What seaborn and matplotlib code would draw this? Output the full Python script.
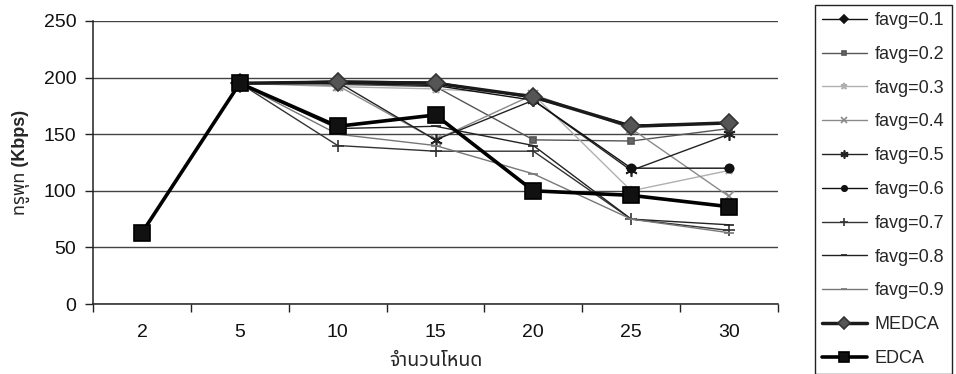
import numpy as np
import pandas as pd
import matplotlib
matplotlib.use("Agg")
import matplotlib.pyplot as plt
import seaborn as sns
from matplotlib.ticker import FixedLocator

# ---- data ----
categories = ["2", "5", "10", "15", "20", "25", "30"]
nan = np.nan
favg_01 = [nan, 195, 197, 196, 182, 158, 160]
favg_02 = [nan, 195, 194, 192, 145, 144, 155]
favg_03 = [nan, 195, 192, 190, 185, 100, 118]
favg_04 = [nan, 195, 193, 145, 185, 155, 95]
favg_05 = [nan, 195, 196, 145, 180, 118, 150]
favg_06 = [nan, 195, 195, 193, 180, 120, 120]
favg_07 = [nan, 195, 140, 135, 135, 75, 65]
favg_08 = [nan, 195, 155, 157, 140, 75, 70]
favg_09 = [nan, 195, 150, 140, 115, 75, 63]
medca = [nan, 195, 196, 195, 183, 157, 160]
edca = [63, 195, 157, 167, 100, 96, 86]
y_ticks = [0, 50, 100, 150, 200, 250]

series = [
    ("favg=0.1", favg_01),
    ("favg=0.2", favg_02),
    ("favg=0.3", favg_03),
    ("favg=0.4", favg_04),
    ("favg=0.5", favg_05),
    ("favg=0.6", favg_06),
    ("favg=0.7", favg_07),
    ("favg=0.8", favg_08),
    ("favg=0.9", favg_09),
    ("MEDCA", medca),
    ("EDCA", edca),
]

styles = {
    "favg=0.1": dict(color="#111111", marker="D", ms=6, lw=1.0, mfc="#111111", mec="#111111"),
    "favg=0.2": dict(color="#555555", marker="s", ms=5, lw=1.0, mfc="#666666", mec="#555555"),
    "favg=0.3": dict(color="#b0b0b0", marker="*", ms=7, lw=1.0, mfc="#b0b0b0", mec="#b0b0b0"),
    "favg=0.4": dict(color="#8a8a8a", marker="x", ms=7, lw=1.0, mfc="#8a8a8a", mec="#8a8a8a"),
    "favg=0.5": dict(color="#222222", marker=(6, 2, 0), ms=9, lw=1.0, mfc="#222222", mec="#222222"),
    "favg=0.6": dict(color="#111111", marker="o", ms=6, lw=1.0, mfc="#111111", mec="#111111"),
    "favg=0.7": dict(color="#333333", marker="+", ms=9, lw=1.0, mfc="#333333", mec="#333333"),
    "favg=0.8": dict(color="#222222", marker="_", ms=7, lw=1.0, mfc="#222222", mec="#222222"),
    "favg=0.9": dict(color="#777777", marker="_", ms=7, lw=1.0, mfc="#777777", mec="#777777"),
    "MEDCA": dict(color="#1a1a1a", marker="D", ms=9, lw=2.5, mfc="#555555", mec="#333333"),
    "EDCA": dict(color="#000000", marker="s", ms=12, lw=2.6, mfc="#111111", mec="#000000"),
}

sns.set_theme(style="white")
plt.rcParams["font.family"] = ["Liberation Sans", "Noto Sans Thai", "Loma", "DejaVu Sans"]

fig = plt.figure(figsize=(9.56, 3.74), dpi=100)
ax = fig.add_axes([0.0973, 0.187, 0.7165, 0.7569])

pos = np.arange(len(categories))
for name, vals in series:
    st = styles[name]
    df = pd.DataFrame({"x": pos, "y": vals})
    sns.lineplot(data=df, x="x", y="y", ax=ax, color=st["color"], lw=st["lw"],
                 marker=st["marker"], markersize=st["ms"],
                 markerfacecolor=st["mfc"], markeredgecolor=st["mec"],
                 markeredgewidth=1.2, label=name, legend=False)

ax.set_xlim(-0.5, len(categories) - 0.5)
ax.set_ylim(0, 250)
ax.set_yticks(y_ticks)
ax.set_xticks(pos)
ax.set_xticklabels(categories)
ax.xaxis.set_minor_locator(FixedLocator(np.arange(-0.5, len(categories), 1.0)))
ax.tick_params(axis="x", which="major", length=0, pad=14, labelsize=14, colors="#111111")
ax.tick_params(axis="x", which="minor", length=6, width=1, direction="out", color="#222222", bottom=True)
ax.tick_params(axis="y", which="major", length=6, width=1, direction="out", color="#222222",
               labelsize=14, left=True, pad=6, colors="#111111")

ax.yaxis.grid(True, color="#444444", lw=1.0)
ax.xaxis.grid(False)
for s in ["top", "right"]:
    ax.spines[s].set_visible(False)
for s in ["left", "bottom"]:
    ax.spines[s].set_color("#222222")
    ax.spines[s].set_linewidth(1.1)

ax.set_xlabel("จำนวนโหนด", fontsize=14, fontweight="bold", labelpad=9)
ax.set_ylabel("ทรูพุท (Kbps)", fontsize=13, fontweight="bold", labelpad=10)

handles, labels = ax.get_legend_handles_labels()
leg = fig.legend(handles, labels, loc="upper left", bbox_to_anchor=(0.852, 0.987),
                 frameon=True, fancybox=False, edgecolor="#222222", framealpha=1,
                 fontsize=13, labelspacing=0.93, handlelength=2.5, handletextpad=0.45,
                 borderpad=0.4, borderaxespad=0, markerscale=0.65)
leg.get_frame().set_linewidth(1.0)

fig.savefig("out.png", dpi=100)
